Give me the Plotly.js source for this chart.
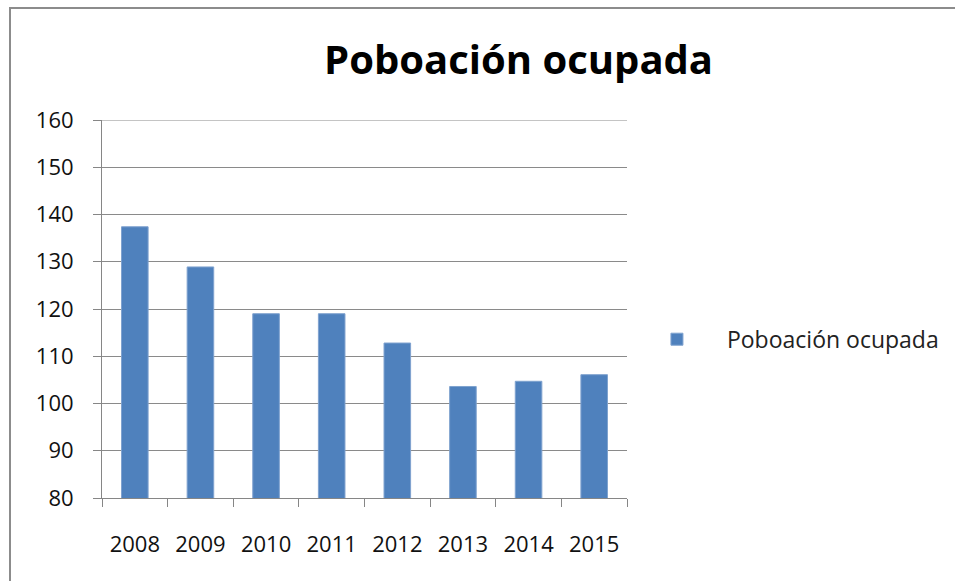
<!DOCTYPE html>
<html><head><meta charset="utf-8">
<script src="https://cdn.plot.ly/plotly-3.0.1.min.js"></script>
<style>
body{margin:0;padding:0;background:#fff;}
#wrap{position:absolute;left:0;top:0;width:955px;height:581px;}
#frame{position:absolute;left:9px;top:7px;width:960px;height:600px;border:2px solid #8c8c8c;box-sizing:border-box;pointer-events:none;}
</style></head>
<body><div id="wrap"><div id="chart"></div><div id="frame"></div></div>
<script>
const years = ['2008','2009','2010','2011','2012','2013','2014','2015'];
const values = [137.4, 128.9, 119.0, 119.0, 112.8, 103.6, 104.7, 106.1];
const seriesName = 'Poboación ocupada';
const chartTitle = 'Poboación ocupada';

const font = "Open Sans, Noto Sans, sans-serif";
Plotly.newPlot('chart', [{
  type: 'bar', x: years, y: values, name: seriesName,
  marker: {color: '#4F81BD', line: {color: '#7FA2CF', width: 1}},
  showlegend: true
}], {
  width: 955, height: 581,
  margin: {l: 102, r: 327, t: 120, b: 83},
  paper_bgcolor: '#fff', plot_bgcolor: '#fff',
  title: {text: '<b>' + chartTitle + '</b>', x: 0.543, xanchor: 'center', y: 0.897, yanchor: 'middle',
          font: {family: font, size: 40, color: '#000'}},
  bargap: 0.595,
  showlegend: true,
  legend: {x: 0.998, xanchor: 'left', y: 0.42, yanchor: 'middle', font: {family: font, size: 23, color: '#222'},
           itemwidth: 90, bgcolor: 'rgba(0,0,0,0)'},
  shapes: [{type: 'line', xref: 'paper', yref: 'y', x0: 0, x1: 1, y0: 160, y1: 160,
            line: {color: '#8a8a8a', width: 1}}],
  xaxis: {type: 'category', tickson: 'boundaries', ticks: 'outside', ticklen: 8, tickcolor: '#868686',
          showline: true, linecolor: '#868686', linewidth: 1, showgrid: false, ticklabelstandoff: 27,
          tickfont: {family: font, size: 22, color: '#111'}, fixedrange: true},
  yaxis: {range: [80, 160], dtick: 10, ticks: 'outside', ticklen: 8, tickcolor: '#868686',
          showline: true, linecolor: '#868686', linewidth: 1, showgrid: true, gridcolor: '#8a8a8a', gridwidth: 1,
          ticklabelstandoff: 15,
          zeroline: false, tickfont: {family: font, size: 22, color: '#111'}, fixedrange: true}
}, {displayModeBar: false, staticPlot: true});
</script></body></html>
